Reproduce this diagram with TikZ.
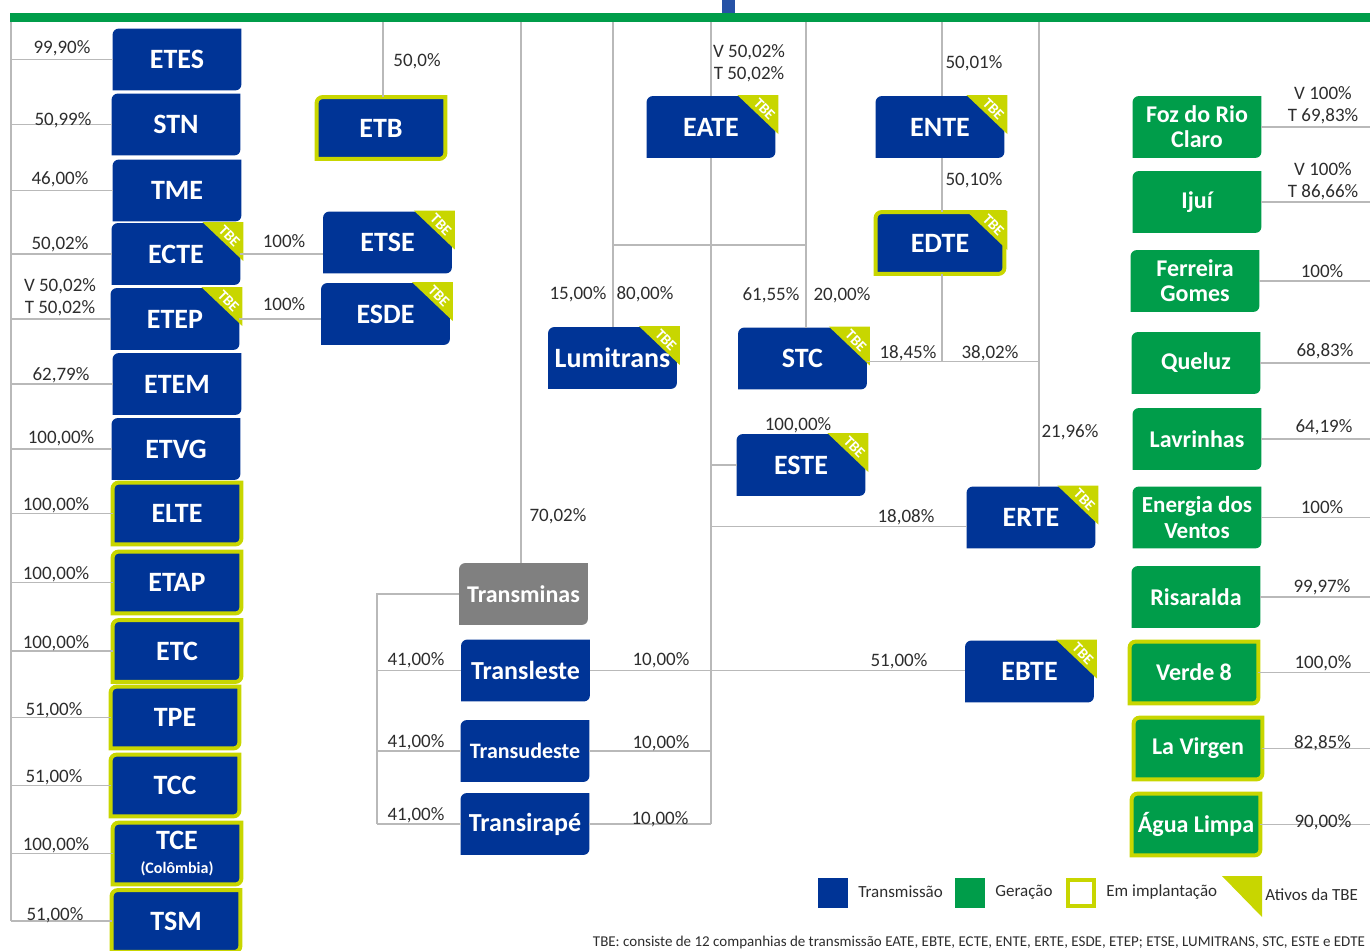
\documentclass[tikz,border=0pt]{standalone}
\usepackage{fontspec}
\setmainfont{Carlito}
\usetikzlibrary{positioning}
\usetikzlibrary{backgrounds}

\definecolor{tbeblue}{RGB}{0,52,150}
\definecolor{tbegreen}{RGB}{0,157,74}
\definecolor{tbelime}{RGB}{200,214,0}
\definecolor{tbegray}{RGB}{128,128,128}
\definecolor{tbetext}{RGB}{45,45,45}

% box outline: top left and bottom right corners rounded
\newcommand\boxpath[2]{%
  \path[#1] (#2.south west) -- ([yshift=-3pt]#2.north west)
    arc[start angle=180,end angle=90,radius=3pt] -- (#2.north east)
    -- ([yshift=3pt]#2.south east)
    arc[start angle=0,end angle=-90,radius=3pt] -- cycle;}
% TBE corner
\newcommand\tbetag[1]{%
  \fill[tbelime] ([xshift=-19pt,yshift=0.5pt]#1.north east)
    -- ([xshift=1.5pt,yshift=0.5pt]#1.north east)
    -- ([xshift=1.5pt,yshift=-19pt]#1.north east) -- cycle;
  \node[rotate=-45,text=white,inner sep=0,font=\bfseries\fontsize{7.5}{8}\selectfont]
    (#1-tag) at ([xshift=-5.5pt,yshift=-6.5pt]#1.north east) {TBE};}

\begin{document}
\begin{tikzpicture}[x=0.5pt,y=-0.5pt,
  link/.style={gray!55,line width=0.6pt},
  pct/.style={text=tbetext,inner sep=0,font=\fontsize{9.5}{11}\selectfont},
  tbox/.style={minimum width=64pt,minimum height=30.5pt,inner sep=0,
    text=white,align=center,font=\bfseries\fontsize{14}{15}\selectfont},
  gbox/.style={tbox,font=\bfseries\fontsize{12}{12.5}\selectfont},
  legend/.style={text=tbetext,inner sep=0,anchor=west,font=\fontsize{8.5}{10}\selectfont}]
\useasboundingbox (0,0) rectangle (1370,950);

% top bar
\fill[tbeblue!85!white] (722,0) rectangle (735,14);
\coordinate (barL) at (10,17.5);
\coordinate (barR) at (1370,17.5);
\draw[tbegreen,line width=4.5pt] (barL) -- (barR);

% left column
\node[tbox] (etes) at (177,59.5) {ETES};
\node[tbox] (stn) at (176,124.5) {STN};
\node[tbox] (tme) at (177,190.5) {TME};
\node[tbox] (ecte) at (176,254) {ECTE};
\node[tbox] (etep) at (175,319) {ETEP};
\node[tbox] (etem) at (177,384) {ETEM};
\node[tbox] (etvg) at (176,449) {ETVG};
\node[tbox] (elte) at (177,513.5) {ELTE};
\node[tbox] (etap) at (177,582.5) {ETAP};
\node[tbox] (etc) at (177,651) {ETC};
\node[tbox] (tpe) at (175,717.5) {TPE};
\node[tbox] (tcc) at (175,785.5) {TCC};
\node[tbox] (tce) at (177,853.5) {TCE\\[-3pt]{\fontsize{8}{9}\selectfont(Colômbia)}};
\node[tbox] (tsm) at (176,921) {TSM};

% middle
\node[tbox] (etb) at (381,128) {ETB};
\node[tbox] (etse) at (387.5,242.5) {ETSE};
\node[tbox] (esde) at (385.5,314) {ESDE};
\node[tbox] (eate) at (711,127) {EATE};
\node[tbox] (ente) at (940,127) {ENTE};
\node[tbox] (edte) at (940,243) {EDTE};
\node[tbox] (lumitrans) at (612.5,358) {Lumitrans};
\node[tbox] (stc) at (802.5,358.5) {STC};
\node[tbox] (este) at (801,465) {ESTE};
\node[tbox] (erte) at (1031,517.5) {ERTE};
\node[tbox] (ebte) at (1029.5,671.5) {EBTE};
\node[tbox,font=\bfseries\fontsize{12}{13}\selectfont] (transminas) at (523.5,594) {Transminas};
\node[tbox,font=\bfseries\fontsize{13}{14}\selectfont] (transleste) at (525.5,670.5) {Transleste};
\node[tbox,font=\bfseries\fontsize{11}{12}\selectfont] (transudeste) at (525,751) {Transudeste};
\node[tbox,font=\bfseries\fontsize{13}{14}\selectfont] (transirape) at (525,824) {Transirapé};

% generation
\node[gbox] (foz) at (1197,127) {Foz do Rio\\Claro};
\node[gbox] (ijui) at (1197,202) {Ijuí};
\node[gbox] (ferreira) at (1195,281) {Ferreira\\Gomes};
\node[gbox] (queluz) at (1196,363) {Queluz};
\node[gbox] (lavrinhas) at (1197,439) {Lavrinhas};
\node[gbox,font=\bfseries\fontsize{11.5}{13}\selectfont] (energia) at (1197,517.5) {Energia dos\\Ventos};
\node[gbox] (risaralda) at (1196,597) {Risaralda};
\node[gbox] (verde) at (1194,672.5) {Verde 8};
\node[gbox] (virgen) at (1198,748.5) {La Virgen};
\node[gbox] (agua) at (1196,824.5) {Água Limpa};

\begin{pgfonlayer}{background}
\foreach \n in {etes,stn,tme,ecte,etep,etem,etvg,elte,etap,etc,tpe,tcc,tce,tsm,
  etb,etse,esde,eate,ente,edte,lumitrans,stc,este,erte,ebte,
  transleste,transudeste,transirape}
  \boxpath{fill=tbeblue}{\n};
\boxpath{fill=tbegray}{transminas};
\foreach \n in {foz,ijui,ferreira,queluz,lavrinhas,energia,risaralda,verde,virgen,agua}
  \boxpath{fill=tbegreen}{\n};
\foreach \n in {etb,edte,elte,etap,etc,tpe,tcc,tce,tsm,verde,virgen,agua}
  \boxpath{draw=tbelime,line width=2pt}{\n};
\foreach \n in {ecte,etep,etse,esde,eate,ente,edte,lumitrans,stc,este,erte,ebte}
  \tbetag{\n};
\end{pgfonlayer}

% connectors
\coordinate (spine) at (11,22);
\draw[link] (spine) -- (spine |- tsm.west);
\foreach \n in {etes,stn,tme,ecte,etep,etem,etvg,elte,etap,etc,tpe,tcc,tce,tsm}
  \draw[link] (spine |- \n.west) -- (\n.west);
\draw[link] (ecte.east) -- (ecte.east -| etse.west);
\draw[link] (etep.east) -- (etep.east -| esde.west);

\coordinate (vetb) at (383,22);
\draw[link] (vetb) -- (vetb |- etb.north);
\coordinate (vtm) at (521,22);
\draw[link] (vtm) -- (vtm |- transminas.north);
\coordinate (tmx) at (377,0);
\draw[link] (transminas.west) -- (transminas.west -| tmx) -- (tmx |- transirape.west);
\foreach \n in {transleste,transudeste,transirape}
  \draw[link] (tmx |- \n.west) -- (\n.west);

\coordinate (vlu) at (613,22);
\coordinate (vstc) at (806,22);
\coordinate (hlu) at (0,245);
\draw[link] (vlu) -- (vlu |- lumitrans.north);
\draw[link] (vstc) -- (vstc |- stc.north);
\draw[link] (vlu |- hlu) -- (vstc |- hlu);

\coordinate (vea) at (711,22);
\draw[link] (vea) -- (eate.north);
\draw[link] (eate.south) -- (eate.south |- transirape.east);
\draw[link] (este.west) -- (este.west -| eate.south);
\draw[link] ([yshift=-4.5pt]erte.west) -- ([yshift=-4.5pt]erte.west -| eate.south);
\draw[link] (transleste.east) -- (transleste.east -| ebte.west);
\draw[link] (transudeste.east) -- (transudeste.east -| eate.south);
\draw[link] (transirape.east) -- (transirape.east -| eate.south);

\coordinate (ven) at (942,22);
\coordinate (ver) at (1039,22);
\draw[link] (ven) -- (ven |- ente.north);
\draw[link] (ven |- ente.south) -- (ven |- edte.north);
\draw[link] (ven |- edte.south) -- ([yshift=-1.5pt]ven |- stc.east);
\draw[link] ([yshift=-1.5pt]stc.east) -- ([yshift=-1.5pt]stc.east -| ver);
\draw[link] (ver) -- (ver |- erte.north);

\coordinate (gright) at (1370,0);
\foreach \n in {foz,ijui,ferreira,queluz,lavrinhas,energia,risaralda,verde,virgen,agua}
  \draw[link] (\n.east) -- (\n.east -| gright);

% shares, left column
\node[pct] (petes) at (62,48) {99,90\%};
\node[pct] (pstn) at (63,120) {50,99\%};
\node[pct] (ptme) at (60,179) {46,00\%};
\node[pct] (pecte) at (60,244) {50,02\%};
\node[pct,align=center] (petep) at (60,297.5) {V 50,02\%\\T 50,02\%};
\node[pct] (petem) at (61,375) {62,79\%};
\node[pct] (petvg) at (61,438) {100,00\%};
\node[pct] (pelte) at (56,505) {100,00\%};
\node[pct] (petap) at (56,574) {100,00\%};
\node[pct] (petc) at (56,643) {100,00\%};
\node[pct] (ptpe) at (54,710) {51,00\%};
\node[pct] (ptcc) at (54,777) {51,00\%};
\node[pct] (ptce) at (56,845) {100,00\%};
\node[pct] (ptsm) at (55,915) {51,00\%};

% shares, middle
\node[pct] (petb) at (417,61) {50,0\%};
\node[pct] (petse) at (284,241) {100\%};
\node[pct] (pesde) at (284,304) {100\%};
\node[pct,align=center] (peate) at (749,63.5) {V 50,02\%\\T 50,02\%};
\node[pct] (pente) at (974,63) {50,01\%};
\node[pct] (pedte) at (974,180) {50,10\%};
\node[pct] (plua) at (578,294) {15,00\%};
\node[pct] (plub) at (645,294) {80,00\%};
\node[pct] (pstca) at (771,295) {61,55\%};
\node[pct] (pstcb) at (842,295) {20,00\%};
\node[pct] (pstcc) at (908,353) {18,45\%};
\node[pct] (pstcd) at (990,353) {38,02\%};
\node[pct] (peste) at (798,425) {100,00\%};
\node[pct] (perte) at (1070,432) {21,96\%};
\node[pct] (ptm) at (558,516) {70,02\%};
\node[pct] (pertb) at (906,517) {18,08\%};
\node[pct] (ptla) at (416,660) {41,00\%};
\node[pct] (ptua) at (416,742) {41,00\%};
\node[pct] (ptia) at (416,815) {41,00\%};
\node[pct] (ptlb) at (661,660) {10,00\%};
\node[pct] (ptub) at (661,743) {10,00\%};
\node[pct] (ptib) at (660,819) {10,00\%};
\node[pct] (pebte) at (899,661) {51,00\%};

% shares, generation
\node[pct,align=center] (pfoz) at (1323,105) {V 100\%\\T 69,83\%};
\node[pct,align=center] (pijui) at (1323,181) {V 100\%\\T 86,66\%};
\node[pct] (pferreira) at (1322,271) {100\%};
\node[pct] (pqueluz) at (1325,351) {68,83\%};
\node[pct] (plavrinhas) at (1324,427) {64,19\%};
\node[pct] (penergia) at (1322,507) {100\%};
\node[pct] (prisaralda) at (1322,587) {99,97\%};
\node[pct] (pverde) at (1323,663) {100,0\%};
\node[pct] (pvirgen) at (1322.5,743) {82,85\%};
\node[pct] (pagua) at (1323,822) {90,00\%};

% legend
\node[fill=tbeblue,minimum size=15pt,inner sep=0] (lgblue) at (833,893) {};
\node[legend] (lgbluet) at (858,892) {Transmissão};
\node[fill=tbegreen,minimum size=15pt,inner sep=0] (lggreen) at (970,893) {};
\node[legend] (lggreent) at (995,892) {Geração};
\node[draw=tbelime,line width=2pt,minimum size=13pt,inner sep=0] (lglime) at (1081,893) {};
\node[legend] (lglimet) at (1106,892) {Em implantação};
\fill[tbelime] (1222,876) -- (1262,876) -- (1262,917) -- cycle;
\node[legend] (lgtag) at (1265,895) {Ativos da TBE};

\node[text=tbetext,inner sep=0,font=\fontsize{7.5}{8}\selectfont] (note) at (979,942)
  {TBE: consiste de 12 companhias de transmissão EATE, EBTE, ECTE, ENTE, ERTE, ESDE, ETEP; ETSE, LUMITRANS, STC, ESTE e EDTE};
\end{tikzpicture}
\end{document}
